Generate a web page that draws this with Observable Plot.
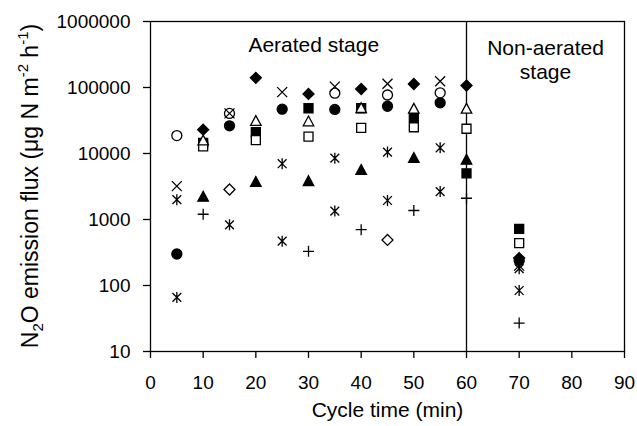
<!DOCTYPE html>
<html>
<head>
<meta charset="utf-8">
<script src="https://cdn.jsdelivr.net/npm/d3@7"></script>
<script src="https://cdn.jsdelivr.net/npm/@observablehq/plot@0.6"></script>
<style>
  html, body { margin: 0; padding: 0; background: #fff; }
</style>
</head>
<body>
<div id="chart"></div>
<script>
// ---- Data ----
const xTicks = [0, 10, 20, 30, 40, 50, 60, 70, 80, 90];
const yTicks = [10, 100, 1000, 10000, 100000, 1000000];

const filledDiamondX = [10, 20, 30, 40, 50, 60, 70];
const filledDiamondY = [23000, 140000, 80000, 95000, 113000, 107000, 260];

const filledSquareX = [10, 20, 30, 40, 50, 60, 70];
const filledSquareY = [14500, 21000, 48500, 48500, 35500, 5000, 720];

const filledCircleX = [5, 15, 25, 35, 45, 55, 70];
const filledCircleY = [300, 26300, 47000, 46500, 52000, 58500, 240];

const filledTriangleX = [10, 20, 30, 40, 50, 60];
const filledTriangleY = [2200, 3700, 3800, 5600, 8500, 8000];

const openSquareX = [10, 20, 30, 40, 50, 60, 70];
const openSquareY = [12800, 16000, 18000, 24500, 25000, 23700, 440];

const openTriangleX = [10, 20, 30, 40, 50, 60];
const openTriangleY = [15700, 31000, 30500, 48500, 47500, 47500];

const openCircleX = [5, 15, 35, 45, 55];
const openCircleY = [18700, 40500, 82000, 77000, 83000];

const crossX = [5, 15, 25, 35, 45, 55, 70];
const crossY = [3200, 40500, 85000, 103000, 114000, 124000, 200];

const starHighX = [5, 25, 35, 45, 55, 70];
const starHighY = [2000, 7000, 8500, 10500, 12200, 180];

const starLowX = [5, 15, 25, 35, 45, 55, 70];
const starLowY = [66, 830, 470, 1340, 1940, 2650, 84];

const plusX = [10, 30, 40, 50, 60, 70];
const plusY = [1200, 330, 700, 1370, 2100, 27];

const openDiamondX = [15, 45];
const openDiamondY = [2850, 490];

const stageDividerX = [60];
const aeratedLabel = "Aerated stage";
const nonAeratedLabel = "Non-aerated\nstage";
const xLabel = "Cycle time (min)";

// ---- Marker shapes ----
const rOf = s => Math.sqrt(s / Math.PI);
const symSquare = {draw(c, s) { const h = rOf(s); c.rect(-h, -h, 2 * h, 2 * h); }};
const symTriangle = {draw(c, s) { const h = rOf(s); c.moveTo(0, -h * 1.1); c.lineTo(h * 1.05, h * 0.85); c.lineTo(-h * 1.05, h * 0.85); c.closePath(); }};
const symDiamond = {draw(c, s) { const h = rOf(s); c.moveTo(0, -h); c.lineTo(h, 0); c.lineTo(0, h); c.lineTo(-h, 0); c.closePath(); }};
const symTimes = {draw(c, s) { const h = rOf(s); c.moveTo(-h, -h); c.lineTo(h, h); c.moveTo(-h, h); c.lineTo(h, -h); }};
const symPlus = {draw(c, s) { const h = rOf(s); c.moveTo(-h, 0); c.lineTo(h, 0); c.moveTo(0, -h); c.lineTo(0, h); }};
const symStar = {draw(c, s) { const h = rOf(s); const d = h * 0.8; c.moveTo(-d, -d); c.lineTo(d, d); c.moveTo(-d, d); c.lineTo(d, -d); c.moveTo(0, -h); c.lineTo(0, h); }};

const rows = (xs, ys) => xs.map((x, i) => ({x, y: ys[i]}));

const seriesSpec = [
  {xs: filledDiamondX, ys: filledDiamondY, symbol: symDiamond, r: 5.5, fill: "#000"},
  {xs: filledSquareX, ys: filledSquareY, symbol: symSquare, r: 4.5, fill: "#000"},
  {xs: filledCircleX, ys: filledCircleY, symbol: "circle", r: 5, fill: "#000"},
  {xs: filledTriangleX, ys: filledTriangleY, symbol: symTriangle, r: 5, fill: "#000"},
  {xs: openSquareX, ys: openSquareY, symbol: symSquare, r: 4.5, fill: "#fff"},
  {xs: openTriangleX, ys: openTriangleY, symbol: symTriangle, r: 5, fill: "#fff"},
  {xs: openCircleX, ys: openCircleY, symbol: "circle", r: 5, fill: "#fff"},
  {xs: crossX, ys: crossY, symbol: symTimes, r: 5, fill: "none"},
  {xs: starHighX, ys: starHighY, symbol: symStar, r: 5.5, fill: "none"},
  {xs: starLowX, ys: starLowY, symbol: symStar, r: 5.5, fill: "none"},
  {xs: plusX, ys: plusY, symbol: symPlus, r: 5.5, fill: "none"},
  {xs: openDiamondX, ys: openDiamondY, symbol: symDiamond, r: 5.5, fill: "#fff"}
];

const dotMarks = seriesSpec.map(s => Plot.dot(rows(s.xs, s.ys), {
  x: "x", y: "y", symbol: () => s.symbol, r: s.r,
  fill: s.fill, stroke: "#000", strokeWidth: 1.3
}));

const font = "'Liberation Sans', Arial, Helvetica, sans-serif";

const chart = Plot.plot({
  width: 637,
  height: 426,
  marginLeft: 150,
  marginRight: 13,
  marginTop: 21,
  marginBottom: 75,
  style: {fontFamily: font, fontSize: "19px", color: "#000", background: "#fff", overflow: "visible"},
  symbol: {type: "identity"},
  x: {domain: [0, 90], label: null},
  y: {type: "log", domain: [10, 1000000], label: null},
  marks: [
    Plot.axisX({ticks: xTicks, tickSize: 7, tickPadding: 17, label: null, fontSize: 19, strokeWidth: 1.3}),
    Plot.axisY({ticks: yTicks, tickSize: 7, tickPadding: 13, tickFormat: d3.format("d"), label: null, fontSize: 19, strokeWidth: 1.3}),
    Plot.frame({stroke: "#000", strokeWidth: 1.3}),
    Plot.ruleX(stageDividerX, {stroke: "#000", strokeWidth: 1.3}),
    ...dotMarks,
    Plot.text([aeratedLabel], {x: 31, frameAnchor: "top", dy: 16, lineAnchor: "top", textAnchor: "middle", fontSize: 21, fill: "#000"}),
    Plot.text([nonAeratedLabel], {x: 75, frameAnchor: "top", dy: 16, lineAnchor: "top", textAnchor: "middle", fontSize: 21, lineHeight: 1.15, fill: "#000"}),
    Plot.text([xLabel], {x: 45, frameAnchor: "bottom", dy: 59, lineAnchor: "middle", textAnchor: "middle", fontSize: 21, fill: "#000"})
  ]
});

// y-axis title with sub/superscripts
const svg = d3.select(chart);
const t = svg.append("text")
  .attr("transform", "translate(38,186) rotate(-90)")
  .attr("text-anchor", "middle")
  .attr("fill", "#000")
  .style("font-family", font)
  .style("font-size", "23px");
t.append("tspan").text("N");
t.append("tspan").attr("dy", 5).style("font-size", "15px").text("2");
t.append("tspan").attr("dy", -5).text("O emission flux (μg N m");
t.append("tspan").attr("dy", -10).style("font-size", "15px").text("-2");
t.append("tspan").attr("dy", 10).text(" h");
t.append("tspan").attr("dy", -10).style("font-size", "15px").text("-1");
t.append("tspan").attr("dy", 10).text(")");

document.getElementById("chart").appendChild(chart);
</script>
</body>
</html>
